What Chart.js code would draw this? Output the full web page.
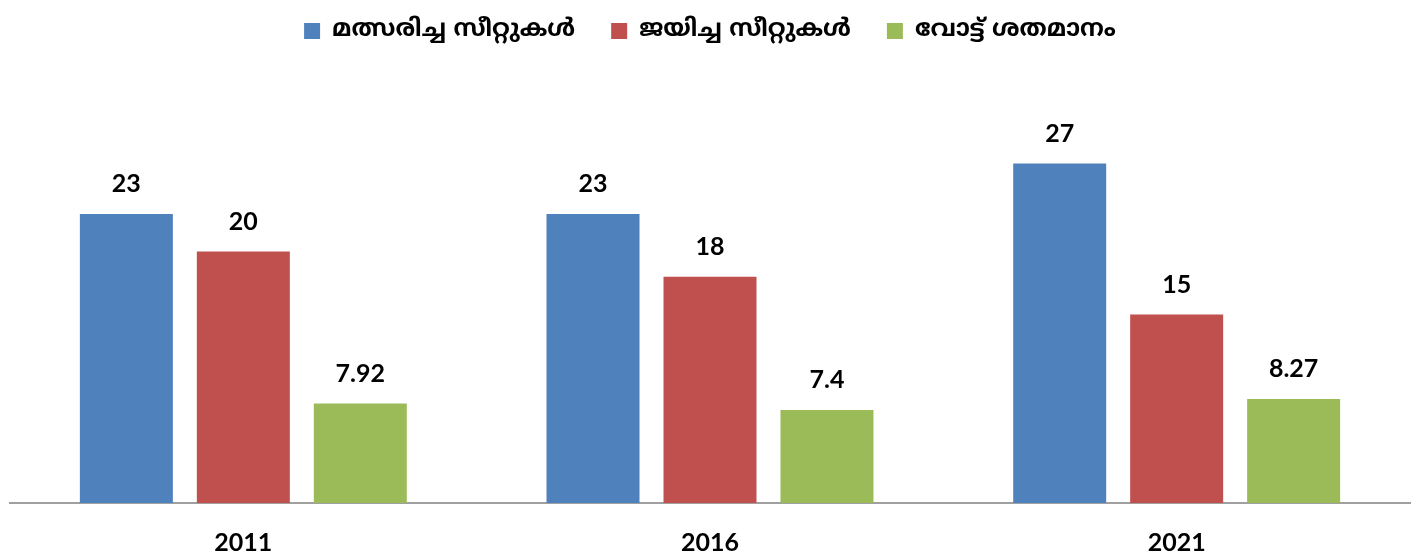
<!DOCTYPE html>
<html><head><meta charset="utf-8">
<script src="https://cdn.jsdelivr.net/npm/chart.js@4"></script>
<style>html,body{margin:0;padding:0;background:#fff}#w{width:1419px;height:559px}</style>
</head><body><div id="w"><canvas id="c"></canvas></div>
<script>
const categories = ["2011", "2016", "2021"];
const seriesNames = ["മത്സരിച്ച സീറ്റുകൾ", "ജയിച്ച സീറ്റുകൾ", "വോട്ട് ശതമാനം"];
const contested = [23, 23, 27];
const won = [20, 18, 15];
const votePct = [7.92, 7.4, 8.27];
const colors = ["#4F81BD", "#C0504D", "#9BBB59"];

const labelPlugin = {
  id: 'vals',
  afterDatasetsDraw(chart) {
    const ctx = chart.ctx;
    ctx.save();
    ctx.font = "bold 25px Lato, 'Open Sans', sans-serif";
    ctx.fillStyle = "#000";
    ctx.textAlign = "center";
    ctx.textBaseline = "middle";
    chart.data.datasets.forEach((ds, i) => {
      chart.getDatasetMeta(i).data.forEach((bar, j) => {
        ctx.fillText(String(ds.data[j]), bar.x, bar.y - 30);
      });
    });
    ctx.restore();
  }
};

new Chart(document.getElementById('c'), {
  type: 'bar',
  data: {
    labels: categories,
    datasets: [
      {label: seriesNames[0], data: contested, backgroundColor: colors[0]},
      {label: seriesNames[1], data: won, backgroundColor: colors[1]},
      {label: seriesNames[2], data: votePct, backgroundColor: colors[2]}
    ]
  },
  options: {
    responsive: true, maintainAspectRatio: false, animation: false,
    layout: {padding: {left: 10, right: 9, top: -17, bottom: 0}},
    datasets: {bar: {categoryPercentage: 0.752, barPercentage: 0.795}},
    plugins: {
      legend: {
        position: 'top',
        labels: {boxWidth: 16, boxHeight: 16, padding: 36, color: '#000',
          font: {family: "'Noto Sans Malayalam', 'Noto Sans', sans-serif", size: 24, weight: 'bold'}}
      },
      tooltip: {enabled: false}
    },
    scales: {
      x: {
        grid: {display: false, drawTicks: false},
        border: {display: true, color: '#A0A0A0', width: 2},
        ticks: {color: '#000', padding: 25, font: {family: "Lato, 'Open Sans', sans-serif", size: 25, weight: 'bold'}},
        afterFit(scale) { scale.height = 56; }
      },
      y: {display: false, min: 0, max: 35.8}
    }
  },
  plugins: [labelPlugin]
});
</script></body></html>
